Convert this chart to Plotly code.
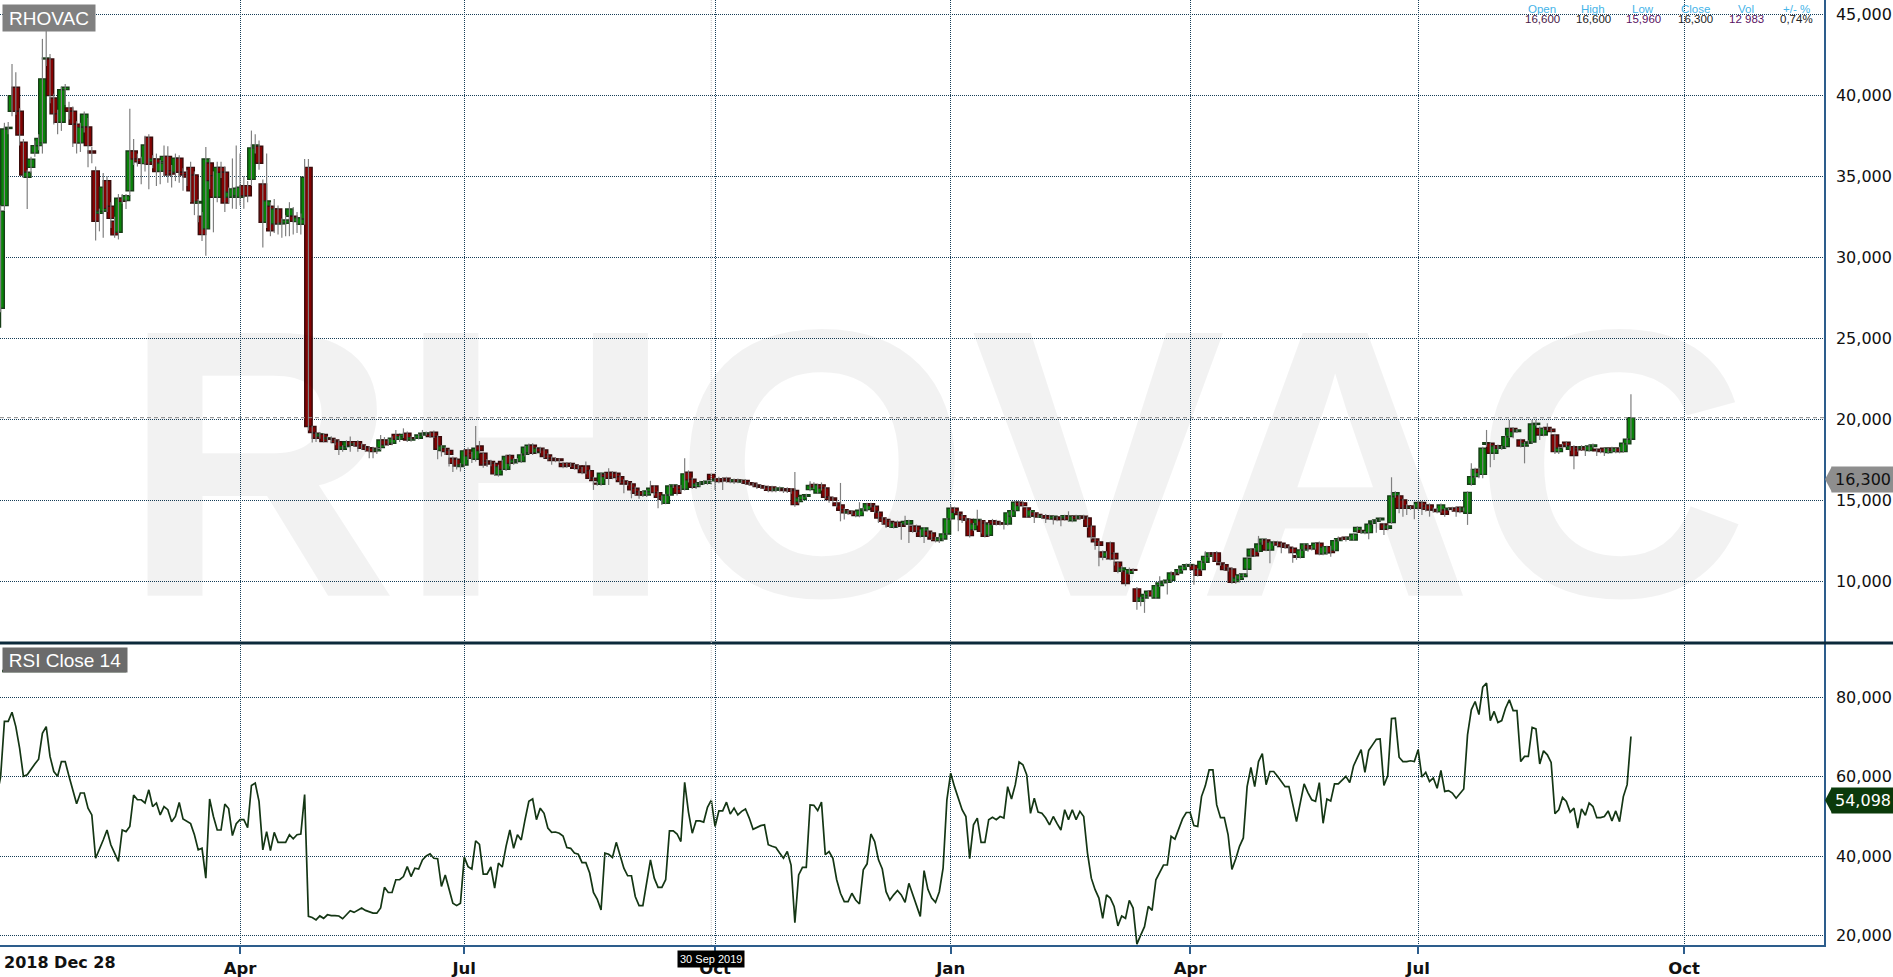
"""RHOVAC daily candles with RSI(14) panel, Dec 2018 - Sep 2020"""

import pandas as pd
import plotly.graph_objects as go

# Nasdaq Stockholm closing days inside the period
HOLIDAYS = [
    "2018-12-31", "2019-01-01", "2019-04-19", "2019-04-22", "2019-05-01",
    "2019-05-30", "2019-06-06", "2019-06-21", "2019-12-24", "2019-12-25",
    "2019-12-26", "2019-12-31", "2020-01-01", "2020-01-06", "2020-04-10",
    "2020-04-13", "2020-05-01", "2020-05-21", "2020-06-19",
]

OPEN = [
    25.70, 26.85, 33.19, 37.95, 39.01, 40.49, 39.01, 37.10, 34.94, 35.55,
    36.44, 36.89, 37.06, 42.24, 42.24, 39.83, 38.85, 38.33, 40.35, 39.22,
    39.01, 38.21, 37.06, 38.04, 38.04, 36.56, 35.33, 32.71, 32.84, 34.73,
    33.15, 32.22, 31.54, 33.64, 33.50, 34.11, 36.56, 36.07, 35.90, 35.78,
    37.41, 35.90, 36.07, 35.31, 35.90, 36.23, 35.35, 35.25, 36.11, 35.25,
    35.10, 35.55, 35.08, 33.35, 32.53, 31.75, 35.82, 35.04, 33.70, 35.55,
    35.25, 33.70, 33.70, 33.80, 33.70, 34.42, 34.42, 34.81, 36.80, 36.85,
    34.52, 32.16, 33.15, 32.06, 32.98, 32.06, 32.10, 32.53, 32.53, 32.20,
    32.04, 32.36, 35.55, 19.55, 19.14, 18.95, 19.07, 18.80, 18.82, 18.72,
    18.62, 18.15, 18.31, 18.62, 18.44, 18.62, 18.42, 18.31, 18.25, 18.21,
    18.05, 18.25, 18.72, 18.70, 18.52, 19.07, 18.77, 18.93, 19.14, 18.72,
    18.85, 18.83, 19.03, 19.12, 19.07, 19.20, 18.93, 18.07, 18.20, 18.07,
    17.59, 17.53, 17.08, 17.18, 18.11, 17.90, 17.53, 18.35, 17.90, 17.42,
    17.39, 17.28, 16.58, 17.39, 16.91, 17.76, 17.32, 17.40, 17.39, 17.84,
    17.94, 18.40, 17.94, 18.21, 18.11, 17.80, 17.59, 17.55, 17.55, 17.28,
    17.28, 17.28, 17.18, 17.12, 16.98, 17.12, 16.83, 16.36, 16.05, 15.99,
    16.60, 16.71, 16.71, 16.67, 16.46, 16.20, 16.15, 16.01, 15.74, 15.53,
    15.53, 15.33, 15.53, 15.88, 15.47, 15.23, 14.81, 15.33, 15.84, 15.88,
    15.88, 15.68, 16.73, 16.30, 15.84, 15.99, 16.05, 16.05, 16.60, 16.20,
    16.32, 16.32, 16.36, 16.26, 16.15, 16.26, 16.13, 16.22, 16.09, 16.05,
    15.95, 15.90, 15.86, 15.80, 15.82, 15.62, 15.66, 15.70, 15.70, 15.70,
    15.60, 14.92, 15.04, 15.25, 15.66, 15.97, 15.45, 15.95, 15.76, 15.19,
    15.14, 14.84, 14.71, 14.42, 14.22, 14.32, 14.22, 14.05, 14.36, 14.42,
    14.79, 14.63, 14.26, 13.91, 13.81, 13.70, 13.33, 13.64, 13.50, 13.54,
    13.54, 13.40, 13.40, 13.09, 12.78, 13.09, 12.98, 12.67, 12.51, 12.61,
    12.92, 13.85, 14.51, 14.26, 14.05, 13.85, 13.81, 13.19, 13.54, 13.74,
    13.60, 12.84, 13.74, 13.70, 13.60, 13.60, 13.54, 14.01, 14.36, 14.88,
    14.84, 14.53, 14.01, 14.22, 14.12, 13.95, 14.05, 14.01, 13.85, 13.91,
    13.97, 13.91, 14.01, 13.74, 14.01, 13.91, 14.01, 13.91, 13.40, 12.61,
    12.43, 11.81, 11.50, 12.37, 11.71, 11.17, 10.62, 10.62, 10.50, 10.72,
    9.53, 8.77, 8.97, 9.12, 9.38, 8.97, 9.73, 9.90, 9.94, 10.06,
    10.51, 10.51, 10.72, 10.93, 11.00, 10.97, 10.72, 10.72, 11.17, 11.54,
    11.75, 11.75, 11.13, 11.03, 10.80, 10.76, 9.98, 10.12, 10.29, 10.74,
    11.56, 11.98, 11.85, 12.35, 12.55, 11.93, 12.38, 12.41, 12.35, 12.24,
    12.10, 12.04, 11.58, 11.48, 11.93, 12.20, 12.14, 12.00, 12.35, 11.69,
    11.75, 12.14, 11.90, 12.51, 12.67, 12.72, 12.60, 12.55, 13.07, 13.13,
    13.00, 13.00, 13.58, 13.70, 13.79, 13.54, 13.27, 13.62, 15.23, 15.27,
    15.02, 14.65, 14.55, 14.65, 14.51, 14.86, 14.65, 14.71, 14.44, 14.40,
    14.30, 14.40, 14.44, 14.51, 14.51, 14.57, 14.40, 14.20, 15.99, 16.46,
    16.91, 16.60, 18.46, 18.52, 17.90, 18.37, 18.21, 18.31, 18.93, 19.44,
    19.24, 18.72, 18.35, 18.52, 18.60, 19.68, 19.44, 19.03, 19.49, 19.38,
    19.03, 18.00, 18.42, 18.58, 18.15, 18.31, 18.27, 18.21, 18.27, 18.07,
    18.31, 18.15, 18.11, 18.21, 17.94, 18.21, 18.00, 18.21, 18.00, 18.48,
    18.77,
]

HIGH = [
    27.30, 33.20, 38.30, 38.35, 41.93, 41.42, 39.20, 37.30, 35.40, 36.20,
    37.20, 37.60, 43.48, 43.99, 42.55, 40.10, 39.10, 40.50, 40.70, 39.60,
    39.30, 38.40, 38.30, 39.00, 38.60, 36.80, 35.60, 33.00, 35.20, 35.00,
    33.40, 32.50, 33.90, 33.90, 33.90, 39.16, 37.30, 36.40, 36.20, 37.50,
    37.60, 36.30, 36.40, 36.00, 36.90, 36.85, 35.70, 36.40, 36.30, 35.50,
    35.40, 35.90, 35.30, 33.60, 32.80, 36.80, 36.10, 35.30, 35.90, 35.90,
    35.60, 34.30, 36.10, 36.90, 36.40, 35.00, 34.70, 37.82, 37.60, 37.20,
    34.80, 36.40, 33.40, 33.60, 33.20, 32.40, 32.60, 33.40, 33.10, 32.80,
    32.70, 36.07, 36.07, 19.60, 19.20, 19.20, 19.15, 18.95, 18.95, 18.80,
    18.70, 18.40, 18.70, 18.93, 18.60, 18.70, 18.50, 18.40, 18.35, 18.30,
    18.30, 19.03, 18.90, 18.80, 18.95, 19.34, 19.00, 19.44, 19.25, 18.95,
    18.95, 19.10, 19.34, 19.25, 19.20, 19.30, 19.00, 18.40, 18.30, 18.15,
    17.70, 17.60, 17.30, 18.15, 18.25, 18.00, 19.59, 18.66, 18.00, 17.55,
    17.50, 17.35, 17.20, 17.50, 17.80, 17.85, 17.60, 17.60, 17.90, 18.35,
    18.50, 18.52, 18.30, 18.30, 18.20, 17.90, 17.70, 17.65, 17.60, 17.35,
    17.35, 17.35, 17.25, 17.20, 17.05, 17.39, 16.90, 16.45, 16.15, 16.75,
    16.70, 16.98, 16.80, 16.75, 16.55, 16.30, 16.20, 16.10, 15.85, 15.60,
    15.60, 15.65, 16.20, 15.95, 15.55, 15.30, 15.40, 15.95, 16.00, 15.95,
    15.95, 17.59, 16.85, 16.40, 16.10, 16.20, 16.25, 16.25, 16.60, 16.40,
    16.45, 16.40, 16.45, 16.35, 16.35, 16.35, 16.30, 16.30, 16.15, 16.10,
    16.05, 15.98, 15.95, 15.90, 15.90, 15.80, 15.85, 15.80, 15.80, 15.75,
    16.75, 15.20, 15.30, 15.40, 16.17, 16.11, 16.00, 16.10, 15.85, 15.25,
    15.20, 14.95, 16.07, 14.50, 14.40, 14.40, 14.30, 14.88, 14.55, 14.85,
    14.85, 14.70, 14.35, 14.00, 13.90, 13.80, 13.65, 13.75, 13.60, 14.05,
    13.80, 13.50, 13.50, 13.20, 13.35, 13.20, 13.05, 12.75, 12.75, 12.98,
    13.90, 14.73, 14.60, 14.35, 14.15, 13.95, 13.90, 13.60, 14.42, 13.85,
    13.70, 13.60, 13.85, 13.80, 13.70, 13.70, 14.25, 14.40, 14.95, 14.95,
    14.90, 14.60, 14.40, 14.30, 14.20, 14.10, 14.15, 14.10, 14.05, 14.00,
    14.05, 14.10, 14.32, 14.05, 14.10, 14.05, 14.10, 14.00, 13.45, 12.70,
    12.50, 11.90, 11.85, 12.45, 11.80, 11.25, 10.95, 10.70, 10.85, 10.80,
    9.65, 9.05, 9.25, 9.45, 9.50, 9.80, 10.31, 10.05, 10.10, 10.62,
    10.60, 10.80, 11.00, 11.10, 11.10, 11.05, 10.80, 11.30, 11.85, 11.80,
    11.80, 11.85, 11.20, 11.10, 10.90, 10.85, 10.35, 10.45, 10.50, 11.50,
    12.05, 12.05, 12.80, 12.65, 12.65, 12.45, 12.50, 12.50, 12.40, 12.30,
    12.20, 12.10, 11.65, 11.98, 12.35, 12.30, 12.20, 12.40, 12.45, 12.15,
    12.20, 12.20, 12.60, 12.76, 12.72, 12.80, 12.75, 12.95, 13.40, 13.20,
    13.10, 13.55, 13.80, 13.85, 13.95, 13.60, 13.50, 16.42, 15.55, 15.35,
    15.10, 14.75, 14.65, 14.75, 14.95, 14.95, 14.75, 14.80, 14.55, 14.50,
    14.80, 14.50, 14.55, 14.60, 14.60, 14.65, 14.55, 15.55, 17.28, 17.00,
    17.00, 18.30, 19.34, 18.60, 18.40, 18.45, 18.35, 19.00, 19.96, 19.50,
    19.40, 18.80, 18.60, 18.70, 19.96, 19.96, 19.55, 19.50, 19.75, 19.45,
    19.10, 18.30, 18.50, 18.65, 18.40, 18.40, 18.35, 18.40, 18.35, 18.45,
    18.50, 18.20, 18.15, 18.25, 18.25, 18.30, 18.25, 18.30, 18.55, 18.85,
    21.54,
]

LOW = [
    25.50, 26.60, 32.90, 37.60, 38.70, 38.80, 36.90, 34.90, 32.98, 35.20,
    36.20, 36.60, 36.40, 41.80, 39.50, 38.20, 37.60, 37.80, 39.40, 38.50,
    36.80, 36.40, 36.50, 37.70, 35.55, 35.80, 31.03, 31.60, 31.20, 32.80,
    31.80, 31.20, 31.10, 33.30, 32.98, 33.80, 35.70, 35.60, 34.50, 35.30,
    34.20, 35.50, 34.40, 34.50, 35.00, 34.60, 34.30, 34.70, 34.60, 34.10,
    34.40, 33.40, 32.60, 32.16, 31.00, 30.10, 34.20, 31.54, 33.40, 34.90,
    32.80, 33.30, 33.00, 32.98, 33.20, 33.00, 33.40, 34.40, 36.40, 35.40,
    30.60, 31.80, 31.30, 31.50, 31.40, 31.20, 31.30, 31.30, 31.40, 31.50,
    31.40, 32.00, 19.30, 18.56, 18.60, 18.80, 18.58, 18.60, 18.55, 18.40,
    17.80, 18.00, 18.20, 18.00, 18.30, 18.00, 18.10, 18.00, 17.59, 17.59,
    17.85, 18.10, 18.30, 18.35, 18.40, 18.70, 18.60, 18.85, 18.60, 18.62,
    18.75, 18.75, 18.95, 19.00, 18.85, 18.85, 17.53, 17.70, 17.80, 17.08,
    16.75, 16.90, 16.77, 17.05, 17.50, 17.30, 17.40, 17.90, 17.00, 17.05,
    17.10, 16.50, 16.46, 16.80, 16.80, 17.10, 17.20, 17.30, 17.30, 17.70,
    17.85, 17.80, 17.85, 17.90, 17.60, 17.45, 17.20, 17.35, 17.30, 16.98,
    17.00, 17.05, 16.90, 16.90, 16.60, 16.60, 16.25, 15.64, 15.90, 15.90,
    16.30, 15.95, 16.30, 16.25, 16.05, 15.43, 15.90, 15.12, 15.30, 15.10,
    15.20, 15.20, 15.40, 15.30, 14.51, 14.71, 14.75, 15.25, 15.75, 15.30,
    15.50, 15.60, 16.10, 15.70, 15.70, 15.85, 15.95, 15.95, 15.96, 15.64,
    16.05, 15.64, 16.10, 16.05, 16.00, 16.05, 16.00, 15.95, 15.90, 15.85,
    15.70, 15.70, 15.65, 15.50, 15.50, 15.50, 15.55, 15.45, 15.45, 15.40,
    14.60, 14.80, 14.95, 15.15, 15.55, 15.70, 15.40, 15.60, 15.10, 14.85,
    14.90, 14.55, 13.70, 13.81, 14.10, 14.10, 13.95, 13.95, 14.25, 14.30,
    14.55, 14.20, 13.60, 13.50, 13.29, 13.30, 13.25, 13.30, 12.57, 13.45,
    12.37, 13.00, 13.00, 12.70, 12.37, 12.75, 12.55, 12.40, 12.37, 12.50,
    12.85, 13.75, 14.20, 13.09, 13.60, 13.70, 12.70, 13.10, 13.45, 12.95,
    12.70, 12.75, 13.45, 13.45, 13.45, 13.19, 13.45, 13.95, 14.30, 14.60,
    14.60, 13.90, 13.95, 13.60, 13.90, 13.85, 13.60, 13.80, 13.50, 13.70,
    13.40, 13.80, 13.70, 13.65, 13.80, 13.80, 13.80, 13.30, 12.60, 11.95,
    10.93, 11.30, 11.40, 11.30, 10.97, 10.50, 10.56, 9.69, 10.40, 10.55,
    8.25, 8.46, 8.05, 8.90, 9.00, 8.90, 9.65, 9.80, 9.18, 10.00,
    10.35, 10.45, 10.65, 10.85, 10.90, 9.79, 10.30, 10.65, 11.10, 11.45,
    11.28, 11.15, 10.95, 10.65, 10.60, 9.85, 9.85, 9.95, 10.20, 10.39,
    11.45, 11.50, 11.75, 12.25, 11.85, 11.11, 12.20, 12.15, 11.73, 12.00,
    11.73, 11.15, 11.32, 11.40, 11.85, 11.83, 11.90, 11.95, 11.60, 11.60,
    11.65, 11.52, 11.85, 12.45, 12.50, 12.45, 12.50, 12.50, 13.00, 12.92,
    12.90, 12.59, 13.50, 13.00, 13.70, 12.86, 13.15, 13.55, 15.15, 14.20,
    13.99, 14.09, 14.40, 13.83, 14.40, 14.09, 14.30, 13.99, 14.25, 14.20,
    14.25, 13.99, 14.35, 14.35, 13.99, 14.20, 14.30, 13.48, 15.90, 16.36,
    16.36, 16.36, 18.30, 17.04, 17.49, 18.10, 18.10, 18.20, 18.85, 18.83,
    19.15, 18.25, 17.28, 18.40, 18.50, 19.60, 18.72, 18.95, 19.30, 19.10,
    17.86, 17.86, 18.20, 18.30, 18.05, 16.91, 18.00, 18.10, 17.74, 18.00,
    18.25, 17.74, 17.90, 17.74, 17.85, 17.95, 17.90, 17.90, 17.95, 18.40,
    18.70,
]

CLOSE = [
    26.85, 32.84, 37.92, 38.02, 39.98, 39.01, 37.55, 35.08, 35.25, 36.05,
    36.89, 37.34, 41.01, 42.30, 39.98, 38.85, 38.33, 40.35, 40.49, 39.01,
    38.21, 37.06, 38.02, 38.83, 36.89, 36.44, 32.22, 32.84, 34.32, 33.02,
    32.40, 31.38, 33.64, 33.45, 33.80, 36.56, 36.07, 35.90, 35.80, 36.93,
    35.74, 36.07, 35.29, 35.82, 36.23, 35.08, 35.14, 36.11, 35.25, 35.08,
    34.95, 34.11, 33.35, 33.45, 31.40, 36.07, 34.73, 33.70, 35.55, 35.25,
    33.35, 34.01, 34.22, 34.26, 34.32, 33.80, 33.80, 36.75, 36.93, 35.80,
    32.16, 33.48, 31.64, 32.98, 32.06, 32.10, 32.30, 32.98, 32.22, 32.43,
    32.43, 34.94, 19.55, 19.18, 18.83, 19.10, 18.62, 18.85, 18.77, 18.56,
    18.15, 18.31, 18.62, 18.40, 18.48, 18.35, 18.21, 18.15, 18.05, 18.00,
    18.15, 18.72, 18.42, 18.46, 18.83, 18.77, 18.93, 19.07, 18.72, 18.87,
    18.83, 19.03, 19.14, 19.16, 18.93, 18.93, 18.15, 18.35, 18.00, 17.84,
    17.28, 17.12, 17.18, 18.05, 17.74, 17.59, 18.21, 18.07, 17.18, 17.24,
    17.28, 16.63, 17.08, 16.91, 17.70, 17.28, 17.49, 17.50, 17.80, 18.27,
    18.40, 17.90, 18.21, 18.00, 17.70, 17.59, 17.45, 17.47, 17.45, 17.08,
    17.12, 17.12, 16.98, 16.96, 16.71, 16.71, 16.36, 16.22, 16.00, 16.67,
    16.46, 16.36, 16.46, 16.40, 16.15, 16.00, 16.01, 15.64, 15.43, 15.33,
    15.33, 15.57, 15.74, 15.47, 15.18, 15.06, 15.33, 15.88, 15.95, 15.43,
    15.68, 16.63, 16.26, 15.80, 16.01, 16.09, 16.15, 16.18, 16.30, 16.30,
    16.15, 16.20, 16.22, 16.15, 16.26, 16.15, 16.22, 16.05, 16.00, 15.95,
    15.85, 15.80, 15.75, 15.62, 15.60, 15.70, 15.76, 15.60, 15.60, 15.56,
    14.73, 15.14, 15.29, 15.35, 15.91, 15.82, 15.95, 15.76, 15.19, 15.04,
    15.00, 14.67, 14.38, 14.22, 14.32, 14.18, 14.05, 14.38, 14.47, 14.79,
    14.67, 14.32, 13.91, 13.70, 13.54, 13.40, 13.60, 13.40, 13.40, 13.70,
    13.74, 13.09, 13.09, 12.78, 13.29, 12.82, 12.61, 12.51, 12.67, 12.92,
    13.85, 14.51, 14.26, 14.12, 13.81, 13.77, 12.82, 13.54, 13.81, 13.09,
    12.78, 13.54, 13.54, 13.54, 13.54, 13.54, 14.22, 14.36, 14.88, 14.67,
    14.67, 13.97, 14.36, 14.05, 13.97, 14.05, 13.91, 13.85, 14.01, 13.81,
    13.81, 14.05, 13.81, 14.01, 13.85, 14.01, 13.91, 13.40, 12.74, 12.43,
    12.22, 11.50, 11.79, 11.38, 11.38, 10.62, 10.82, 9.86, 10.72, 10.68,
    8.77, 8.97, 9.18, 9.38, 9.10, 9.73, 9.90, 10.00, 10.06, 10.51,
    10.41, 10.72, 10.93, 11.03, 11.03, 10.72, 10.37, 11.23, 11.54, 11.75,
    11.65, 11.23, 11.03, 10.72, 10.70, 9.94, 10.20, 10.39, 10.45, 11.42,
    11.98, 11.58, 12.30, 12.59, 11.93, 12.41, 12.41, 12.24, 12.14, 12.10,
    12.08, 11.77, 11.48, 11.93, 12.30, 12.04, 12.00, 12.35, 11.69, 12.10,
    12.14, 11.77, 12.51, 12.63, 12.60, 12.60, 12.70, 12.90, 13.33, 13.02,
    13.07, 13.52, 13.72, 13.79, 13.89, 13.21, 13.42, 15.27, 15.47, 14.51,
    14.51, 14.51, 14.57, 14.51, 14.86, 14.51, 14.44, 14.40, 14.40, 14.30,
    14.71, 14.14, 14.51, 14.46, 14.34, 14.30, 14.51, 15.49, 16.46, 16.91,
    16.71, 18.21, 18.56, 17.90, 18.35, 18.21, 18.31, 18.93, 19.44, 19.24,
    19.34, 18.35, 18.52, 18.60, 19.71, 19.75, 19.03, 19.44, 19.38, 19.24,
    18.00, 18.21, 18.31, 18.37, 18.31, 17.76, 18.11, 18.31, 18.11, 18.35,
    18.42, 18.05, 18.00, 18.00, 18.21, 18.07, 18.21, 18.00, 18.52, 18.77,
    20.10,
]

RSI = [
    55.0, 60.0, 73.9, 73.9, 76.2, 72.6, 67.2, 60.1, 60.5, 61.7,
    63.2, 64.4, 70.9, 72.6, 65.1, 61.3, 60.1, 63.8, 63.8, 60.1,
    56.7, 53.2, 55.9, 55.9, 52.1, 50.4, 39.5, 41.6, 44.1, 46.6,
    42.9, 40.8, 38.7, 46.6, 46.2, 47.5, 55.4, 54.2, 54.2, 53.4,
    56.7, 52.5, 53.4, 50.4, 52.5, 51.7, 48.7, 50.0, 53.5, 49.4,
    48.9, 48.2, 45.4, 41.6, 42.0, 34.5, 54.4, 50.0, 46.6, 46.6,
    53.1, 52.0, 45.2, 48.2, 49.2, 49.2, 47.2, 57.8, 58.4, 53.8,
    41.6, 46.2, 41.4, 46.0, 43.5, 43.5, 43.5, 45.4, 44.4, 45.4,
    45.6, 55.5, 24.9, 24.6, 24.0, 25.0, 24.4, 25.3, 25.1, 25.1,
    25.0, 24.3, 25.3, 26.3, 25.9, 26.5, 27.0, 26.4, 26.1, 25.7,
    25.7, 27.0, 32.2, 30.9, 30.9, 34.1, 34.1, 34.9, 37.4, 34.9,
    37.0, 36.8, 39.1, 40.1, 40.6, 39.5, 39.4, 32.4, 35.3, 31.6,
    28.2, 27.6, 28.2, 39.8, 37.4, 36.8, 43.9, 43.0, 35.5, 35.5,
    37.3, 32.0, 38.3, 37.3, 42.5, 46.6, 42.0, 45.4, 44.1, 49.2,
    53.8, 54.4, 49.2, 52.1, 50.8, 47.1, 46.0, 46.1, 45.8, 45.1,
    42.2, 42.0, 40.8, 40.5, 38.4, 38.4, 35.8, 30.9, 29.2, 26.5,
    40.8, 40.5, 39.7, 43.5, 40.4, 37.0, 35.1, 35.1, 29.9, 27.6,
    27.6, 33.2, 39.1, 34.5, 32.2, 32.2, 34.1, 46.4, 46.4, 45.6,
    43.7, 58.6, 51.1, 45.8, 48.9, 48.9, 48.6, 52.3, 54.098, 47.5,
    51.4, 51.4, 53.6, 50.6, 52.1, 50.4, 51.3, 51.9, 49.6, 46.8,
    47.3, 47.7, 47.9, 42.9, 42.5, 42.2, 40.8, 39.5, 41.2, 37.8,
    23.3, 35.3, 37.2, 37.2, 52.9, 52.8, 51.5, 53.6, 40.4, 41.2,
    39.5, 34.1, 30.7, 28.6, 28.6, 30.7, 29.0, 28.0, 36.6, 38.1,
    45.6, 43.7, 39.1, 36.8, 31.1, 29.0, 30.3, 31.4, 30.3, 28.4,
    33.2, 30.3, 27.8, 24.9, 36.4, 31.7, 29.5, 28.4, 31.1, 37.0,
    54.2, 60.9, 57.5, 54.6, 51.7, 50.0, 39.4, 47.9, 49.6, 43.5,
    43.5, 49.2, 49.8, 49.2, 50.0, 49.6, 57.5, 54.4, 58.0, 63.7,
    63.0, 60.5, 50.8, 54.6, 51.1, 50.8, 49.6, 47.9, 50.0, 48.2,
    46.6, 51.7, 49.2, 51.7, 49.2, 51.3, 50.0, 40.8, 34.5, 31.6,
    29.5, 24.4, 30.3, 29.5, 27.4, 22.5, 25.0, 24.4, 28.9, 27.0,
    17.9, 20.2, 22.3, 27.4, 26.4, 34.1, 35.8, 37.8, 37.8, 45.0,
    44.3, 47.1, 49.4, 51.0, 51.0, 47.7, 47.5, 55.0, 57.7, 61.7,
    61.7, 52.9, 49.7, 49.7, 45.4, 36.7, 39.3, 42.5, 44.6, 57.5,
    62.3, 57.5, 63.8, 65.8, 58.0, 61.3, 61.3, 60.1, 58.8, 57.5,
    57.5, 52.9, 48.7, 53.5, 58.2, 56.0, 54.2, 53.8, 58.5, 48.3,
    54.4, 53.9, 58.2, 58.2, 59.2, 60.1, 58.5, 62.7, 64.8, 66.8,
    61.1, 66.6, 68.0, 69.4, 69.5, 57.8, 60.2, 74.6, 74.7, 64.9,
    63.8, 63.8, 64.0, 63.8, 66.8, 59.9, 61.1, 58.8, 59.7, 57.1,
    61.6, 56.3, 56.5, 55.9, 54.6, 55.7, 56.9, 70.5, 76.8, 78.9,
    75.6, 82.5, 83.5, 74.1, 76.4, 73.6, 74.1, 77.2, 79.3, 76.6,
    76.6, 63.8, 65.1, 65.1, 72.4, 72.0, 63.2, 66.5, 65.5, 63.6,
    50.7, 51.7, 54.8, 53.8, 51.1, 52.1, 47.1, 51.9, 50.3, 53.4,
    52.5, 49.7, 49.7, 50.0, 51.4, 48.9, 51.4, 48.7, 55.0, 58.0,
    70.1,
]

CURSOR_DAY = "2019-09-30"
CURSOR_VOLUME = "12 983"

PRICE_TICKS = [10, 15, 20, 25, 30, 35, 40, 45]
RSI_TICKS = [20, 40, 60, 80]
MONTH_TICKS = ["2019-04-01", "2019-07-01", "2019-10-01", "2020-01-02",
               "2020-04-01", "2020-07-01", "2020-10-01"]
MONTH_LABELS = ["Apr", "Jul", "Oct", "Jan", "Apr", "Jul", "Oct"]

# colours
UP, UP_EDGE = "#088408", "#173d17"
DOWN, DOWN_EDGE = "#840202", "#3a0c0c"
WICK = "#808080"
GRID = "#163e58"
AXIS = "#2d5d8c"
RSI_LINE = "#143614"

# figure geometry (pixels)
W, H = 1893, 977
MR, MB = 69, 32
PW, PH = W - MR, H - MB
SPLIT = 1 - 643 / PH


def px_x(p):
    return p / PW


def px_y(p):
    return 1 - p / PH


def fmt3(v):
    return f"{v:.3f}".replace(".", ",")


# trading calendar for the candles, plain calendar days after the last one
trade_days = pd.bdate_range("2018-12-28", periods=len(CLOSE), freq="C", holidays=HOLIDAYS)
future_days = pd.date_range(trade_days[-1] + pd.Timedelta(days=1), periods=60, freq="D")
days = [d.strftime("%Y-%m-%d") for d in trade_days]
axis_days = days + [d.strftime("%Y-%m-%d") for d in future_days]
ci = days.index(CURSOR_DAY)

fig = go.Figure()

# watermark behind everything
fig.add_trace(go.Scatter(
    x=[axis_days[247]], y=[15.0], mode="text", text=["RHOVAC"],
    textfont=dict(family="Liberation Sans", size=382, color="rgba(0,0,0,0.052)", weight="bold"),
    xaxis="x2", yaxis="y2", hoverinfo="skip",
))

# wicks
wx, wy = [], []
for d, o, h, l, c in zip(days, OPEN, HIGH, LOW, CLOSE):
    wx += [d, d, None]
    wy += [min(l, o, c), max(h, o, c), None]
fig.add_trace(go.Scatter(
    x=wx, y=wy, mode="lines", line=dict(color=WICK, width=1.2),
    xaxis="x2", yaxis="y2", hoverinfo="skip",
))

# bodies
up = [c >= o for o, c in zip(OPEN, CLOSE)]
fig.add_trace(go.Bar(
    x=days,
    y=[abs(c - o) for o, c in zip(OPEN, CLOSE)],
    base=[min(o, c) for o, c in zip(OPEN, CLOSE)],
    width=1.95,
    marker=dict(color=[UP if u else DOWN for u in up],
                line=dict(color=[UP_EDGE if u else DOWN_EDGE for u in up], width=1.4)),
    xaxis="x2", yaxis="y2", hoverinfo="skip",
))

# RSI
fig.add_trace(go.Scatter(
    x=days, y=RSI, mode="lines", line=dict(color=RSI_LINE, width=1.7),
    xaxis="x", yaxis="y", hoverinfo="skip",
))

grid = dict(showgrid=True, gridcolor=GRID, gridwidth=1, griddash="1px,1px", zeroline=False)
xcommon = dict(type="category", categoryorder="array", categoryarray=axis_days,
               range=[0.84, 480.8], tickmode="array", tickvals=MONTH_TICKS,
               automargin=False, **grid)
ytick_font = dict(family="DejaVu Sans", size=16, color="#111111")
ycommon = dict(side="right", tickformat=".3f", ticks="", ticklabelstandoff=7,
               showline=True, linecolor=AXIS, linewidth=1.5, tickfont=ytick_font,
               automargin=False, **grid)

fig.update_layout(
    width=W, height=H,
    margin=dict(l=0, r=MR, t=0, b=MB, autoexpand=False),
    paper_bgcolor="white", plot_bgcolor="white",
    separators=", ",
    showlegend=False, barmode="overlay", dragmode=False,
    xaxis=dict(domain=[0, 1], anchor="y", ticktext=MONTH_LABELS,
               ticks="outside", ticklen=7, tickwidth=1.5, tickcolor=AXIS,
               showline=True, linecolor=AXIS, linewidth=1.5,
               tickfont=dict(family="DejaVu Sans", size=16.5, color="#111111", weight="bold"),
               **xcommon),
    xaxis2=dict(domain=[0, 1], anchor="y2", matches="x", showticklabels=False, ticks="",
                **xcommon),
    yaxis=dict(domain=[0, SPLIT], range=[17.7, 93.6], tickvals=RSI_TICKS, **ycommon),
    yaxis2=dict(domain=[SPLIT, 1], range=[6.19, 45.88], tickvals=PRICE_TICKS, **ycommon),
)

shapes = [
    # panel divider, runs under the value scale too
    dict(type="line", xref="paper", yref="paper", x0=0, x1=W / PW, y0=SPLIT, y1=SPLIT,
         line=dict(color="#0c2a3b", width=3)),
    # last close
    dict(type="line", xref="paper", yref="y2", x0=0, x1=1, y0=CLOSE[-1], y1=CLOSE[-1],
         line=dict(color="#8c8c8c", width=1, dash="4px,3px")),
    # cursor line
    dict(type="line", xref="x", yref="paper", x0=CURSOR_DAY, x1=CURSOR_DAY, y0=0, y1=1,
         line=dict(color="#c4c4c4", width=1, dash="1px,1px")),
    # underline of the RSI caption
    dict(type="line", xref="paper", yref="paper", x0=px_x(2), x1=px_x(126),
         y0=px_y(671), y1=px_y(671), line=dict(color="#0b3a0b", width=2.5)),
]

annotations = [
    dict(text="RHOVAC", xref="paper", yref="paper", x=px_x(2), y=px_y(4),
         xanchor="left", yanchor="top", showarrow=False, bgcolor="#808080",
         width=88, height=22, borderpad=2,
         font=dict(family="Liberation Sans", size=19, color="white")),
    dict(text="RSI Close 14", xref="paper", yref="paper", x=px_x(2), y=px_y(647),
         xanchor="left", yanchor="top", showarrow=False, bgcolor="#6b6b6b",
         width=120, height=20, borderpad=2,
         font=dict(family="Liberation Sans", size=19, color="white")),
    dict(text="2018 Dec 28", xref="paper", yref="paper", x=px_x(2), y=px_y(963),
         xanchor="left", yanchor="middle", showarrow=False,
         font=dict(family="DejaVu Sans", size=16, color="#111111", weight="bold")),
    dict(text=pd.Timestamp(CURSOR_DAY).strftime("%d %b %Y"), xref="x", yref="paper",
         x=CURSOR_DAY, y=px_y(950), xanchor="center", yanchor="top", showarrow=False,
         bgcolor="black", borderpad=2,
         font=dict(family="Liberation Sans", size=11, color="white")),
]

# quote box for the cursor day
prev = CLOSE[ci - 1]
quote = [
    ("Open", fmt3(OPEN[ci]), "#4a1a48", 1542),
    ("High", fmt3(HIGH[ci]), "#222222", 1593),
    ("Low", fmt3(LOW[ci]), "#5a1262", 1643),
    ("Close", fmt3(CLOSE[ci]), "#222222", 1695),
    ("Vol", CURSOR_VOLUME, "#5a1262", 1746),
    ("+/- %", f"{(CLOSE[ci] / prev - 1) * 100:.2f}%".replace(".", ","), "#222222", 1796),
]
for label, value, colour, cx in quote:
    annotations.append(dict(text=label, xref="paper", yref="paper", x=px_x(cx), y=px_y(9),
                            xanchor="center", yanchor="middle", showarrow=False,
                            font=dict(family="Liberation Sans", size=11.5, color="#45b4e8")))
    annotations.append(dict(text=value, xref="paper", yref="paper", x=px_x(cx), y=px_y(19),
                            xanchor="center", yanchor="middle", showarrow=False,
                            font=dict(family="Liberation Sans", size=11.5, color=colour)))

# value tags on the scale
tags = [
    (fmt3(CLOSE[ci]), "y2", CLOSE[ci], "#8e8e8e", "#111111", 0.80),
    (fmt3(RSI[ci]), "y", RSI[ci], "#0b3a0b", "white", 3.3),
]
for text, yref, yv, bg, fg, half in tags:
    annotations.append(dict(text=text, xref="paper", yref=yref, x=px_x(1831), y=yv,
                            xanchor="left", yanchor="middle", showarrow=False,
                            bgcolor=bg, borderpad=3,
                            font=dict(family="DejaVu Sans", size=16, color=fg)))
    shapes.append(dict(type="path", xref="paper", yref=yref, fillcolor=bg, line=dict(width=0),
                       path=f"M {px_x(1825)},{yv} L {px_x(1832)},{yv + half} "
                            f"L {px_x(1832)},{yv - half} Z"))

fig.update_layout(shapes=shapes, annotations=annotations)

fig.write_html("out.html", config={"displayModeBar": False},
               post_script="document.body.style.margin='0';document.body.style.overflow='hidden';")
